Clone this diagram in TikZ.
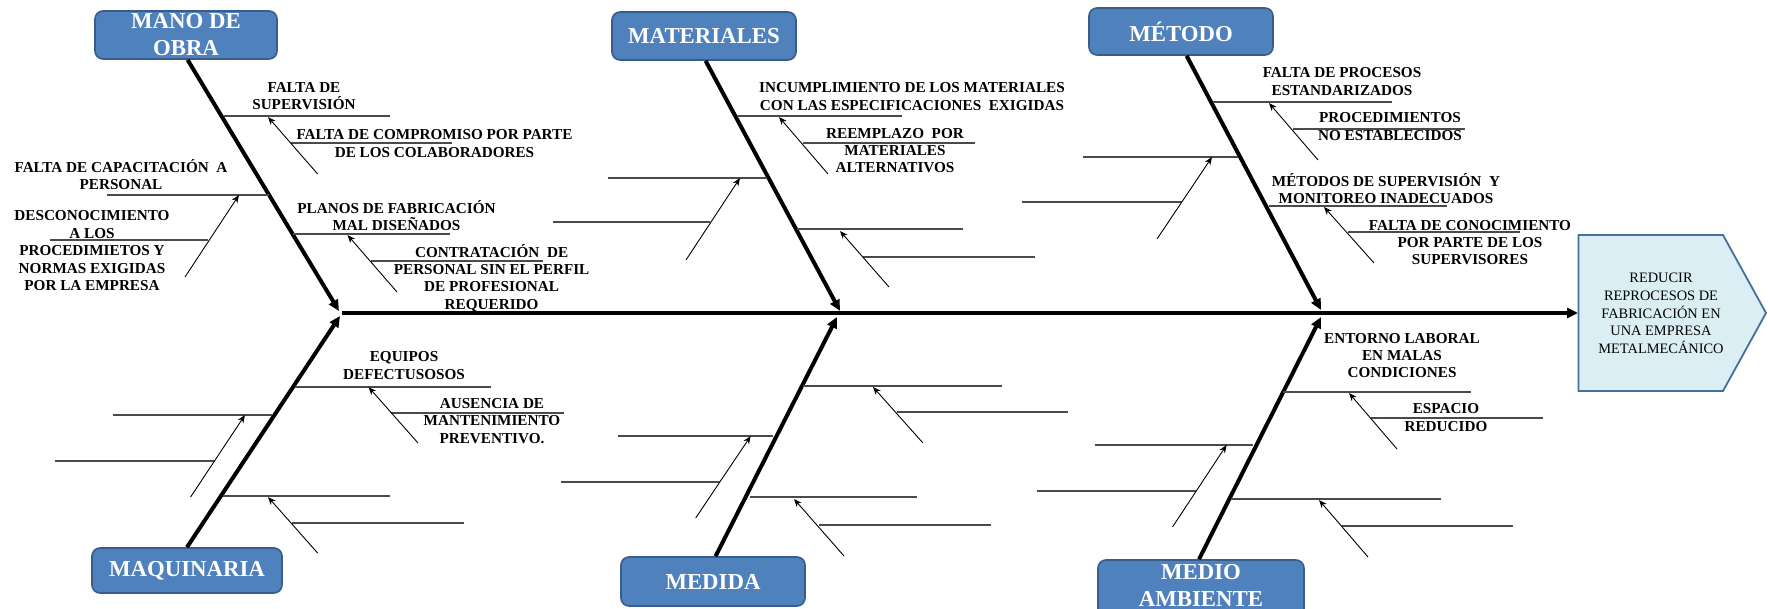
\documentclass[tikz,border=0pt]{standalone}
\usepackage{fontspec}
\setmainfont{Liberation Serif}
\usetikzlibrary{arrows.meta}
\definecolor{catfill}{HTML}{4F81BD}
\definecolor{catdraw}{HTML}{385D8A}
\definecolor{goalfill}{HTML}{DBEEF4}
\definecolor{goaldraw}{HTML}{41719C}
\definecolor{bonegray}{HTML}{4A4A4A}
\begin{document}
\begin{tikzpicture}[x=0.5pt,y=-0.5pt,
  cat/.style={draw=catdraw, fill=catfill, line width=0.8pt, rounded corners=4pt, text=white,
    font=\fontsize{11.4}{13.5}\selectfont\bfseries, align=center, inner sep=0pt},
  cattext/.style={text=white, font=\fontsize{11.4}{13.5}\selectfont\bfseries, align=center, inner sep=0pt},
  lbl/.style={font=\fontsize{7.6}{8.6}\selectfont\bfseries, align=center, inner sep=0pt},
  goaltext/.style={font=\fontsize{7.2}{8.85}\selectfont, align=center, inner sep=0pt},
  spine/.style={line width=2pt, -{Triangle[length=5.5pt,width=5pt]}},
  bone/.style={line width=0.6pt, draw=bonegray},
  sub/.style={line width=0.45pt, -{Stealth[length=4pt,width=3.2pt]}},
]
\clip (0,0) rectangle (1768,609);
\fill[white] (0,0) rectangle (1768,609);

% ---------- category boxes ----------
\node[cat, minimum width=91pt, minimum height=24pt] (mano) at (186,35) {MANO DE\\OBRA};
\node[cat, minimum width=92pt, minimum height=24pt] (mat) at (704,36) {MATERIALES};
\node[cat, minimum width=92pt, minimum height=23.5pt] (met) at (1181,31.5) {MÉTODO};
\node[cat, minimum width=95pt, minimum height=22.5pt] (maq) at (187,570.5) {MAQUINARIA};
\node[cat, minimum width=92pt, minimum height=24.5pt] (med) at (713,581.5) {MEDIDA};
\node[cat, minimum width=103pt, minimum height=30pt] (amb) at (1201,590) {};
\node[cattext] (ambtxt) at (1201,585) {MEDIO\\AMBIENTE};

% ---------- goal ----------
\coordinate (g1) at (1578.5,235);
\coordinate (g2) at (1723,235);
\coordinate (g3) at (1766,313);
\coordinate (g4) at (1723,391);
\coordinate (g5) at (1578.5,391);
\draw[fill=goalfill, draw=goaldraw, line width=0.9pt] (g1) -- (g2) -- (g3) -- (g4) -- (g5) -- cycle;
\node[goaltext] (goal) at (1661,313.5) {REDUCIR\\REPROCESOS DE\\FABRICACIÓN EN\\UNA EMPRESA\\METALMECÁNICO};

% ---------- main spine ----------
\coordinate (ms) at (342,313);
\coordinate (G) at (1578,313);
\draw[spine] (ms) -- (G);

\coordinate (j1) at (339,311);
\coordinate (j2) at (840,311);
\coordinate (j3) at (1321,310);
\coordinate (j4) at (340,316);
\coordinate (j5) at (837,317);
\coordinate (j6) at (1321,317);
\draw[spine] ([xshift=0.8pt]mano.south) -- (j1);
\draw[spine] ([xshift=0.8pt]mat.south) -- (j2);
\draw[spine] ([xshift=2.8pt]met.south) -- (j3);
\draw[spine] (maq.north) -- (j4);
\draw[spine] ([xshift=1.3pt]med.north) -- (j5);
\draw[spine] ([xshift=-1pt]amb.north) -- (j6);

% ---------- MANO DE OBRA ----------
\draw[bone] (224,116) -- (390,116);
\draw[bone] (291,143) -- (452,143);
\draw[bone] (107,195) -- (269,195);
\draw[bone] (50,240) -- (208,240);
\draw[bone] (293,234) -- (450,234);
\draw[bone] (371,261) -- (543,261);
\draw[sub] (317.6,174) -- (268,117);
\draw[sub] (185,277) -- (239,195);
\draw[sub] (397,292) -- (347.5,235);
\node[lbl] (l1) at (304,96.5) {FALTA DE\\SUPERVISIÓN};
\node[lbl] (l2) at (434.5,143.5) {FALTA DE COMPROMISO POR PARTE\\DE LOS COLABORADORES};
\node[lbl] (l3) at (121,174.5) {FALTA DE CAPACITACIÓN \ A\\PERSONAL};
\node[lbl, font=\fontsize{7.6}{8.75}\selectfont\bfseries] (l4) at (92,251) {DESCONOCIMIENTO\\A LOS\\PROCEDIMIETOS Y\\NORMAS EXIGIDAS\\POR LA EMPRESA};
\node[lbl] (l5) at (396.5,215.5) {PLANOS DE FABRICACIÓN\\MAL DISEÑADOS};
\node[lbl] (l6) at (491.6,278) {CONTRATACIÓN \ DE\\PERSONAL SIN EL PERFIL\\DE PROFESIONAL\\REQUERIDO};

% ---------- MATERIALES ----------
\draw[bone] (737,116) -- (902,116);
\draw[bone] (803,143) -- (975,143);
\draw[bone] (608,178) -- (767,178);
\draw[bone] (553,222) -- (710,222);
\draw[bone] (797,229) -- (963,229);
\draw[bone] (863,257) -- (1035,257);
\draw[sub] (828,174) -- (779,117);
\draw[sub] (686,260) -- (740,178);
\draw[sub] (889,287) -- (840,231);
\node[lbl] (l7) at (912,96.5) {INCUMPLIMIENTO DE LOS MATERIALES\\CON LAS ESPECIFICACIONES \ EXIGIDAS};
\node[lbl] (l8) at (895,150.5) {REEMPLAZO \ POR\\MATERIALES\\ALTERNATIVOS};

% ---------- METODO ----------
\draw[bone] (1213,102) -- (1392,102);
\draw[bone] (1293,129) -- (1465,129);
\draw[bone] (1083,157) -- (1238,157);
\draw[bone] (1022,202) -- (1182,202);
\draw[bone] (1269,206) -- (1447,206);
\draw[bone] (1348,232) -- (1520,232);
\draw[sub] (1318,160) -- (1269,103);
\draw[sub] (1157,239) -- (1212,157);
\draw[sub] (1374,263) -- (1324,207);
\node[lbl] (l9) at (1342,81.5) {FALTA DE PROCESOS\\ESTANDARIZADOS};
\node[lbl] (l10) at (1390,126.5) {PROCEDIMIENTOS\\NO ESTABLECIDOS};
\node[lbl] (l11) at (1386,188.5) {MÉTODOS DE SUPERVISIÓN \ Y\\MONITOREO INADECUADOS};
\node[lbl] (l12) at (1470,242.5) {FALTA DE CONOCIMIENTO\\POR PARTE DE LOS\\SUPERVISORES};

% ---------- MAQUINARIA ----------
\draw[bone] (295,387) -- (491,387);
\draw[bone] (391,413) -- (564,413);
\draw[bone] (113,415) -- (272,415);
\draw[bone] (55,461) -- (214,461);
\draw[bone] (223,496) -- (390,496);
\draw[bone] (292,523) -- (464,523);
\draw[sub] (418,443) -- (368.5,387);
\draw[sub] (190.6,497) -- (245,415);
\draw[sub] (317.6,553) -- (268,497);
\node[lbl] (l13) at (404,365.5) {EQUIPOS\\DEFECTUSOSOS};
\node[lbl] (l14) at (492,421) {AUSENCIA DE\\MANTENIMIENTO\\PREVENTIVO.};

% ---------- MEDIDA ----------
\draw[bone] (803,386) -- (1002,386);
\draw[bone] (897,412) -- (1068,412);
\draw[bone] (618,436) -- (773,436);
\draw[bone] (561,482) -- (720,482);
\draw[bone] (750,497) -- (917,497);
\draw[bone] (819,525) -- (991,525);
\draw[sub] (922.7,442.7) -- (873,387);
\draw[sub] (695.7,518) -- (750.7,436);
\draw[sub] (844,556) -- (794,499);

% ---------- MEDIO AMBIENTE ----------
\draw[bone] (1283,392) -- (1471,392);
\draw[bone] (1371,418) -- (1543,418);
\draw[bone] (1095,445) -- (1253,445);
\draw[bone] (1037,491) -- (1196,491);
\draw[bone] (1231,499) -- (1441,499);
\draw[bone] (1342,526) -- (1513,526);
\draw[sub] (1397,449) -- (1349,393);
\draw[sub] (1172.5,527) -- (1226.6,445);
\draw[sub] (1368,557) -- (1319,500);
\node[lbl] (l15) at (1402,355.5) {ENTORNO LABORAL\\EN MALAS\\CONDICIONES};
\node[lbl] (l16) at (1446,417.5) {ESPACIO\\REDUCIDO};
\end{tikzpicture}
\end{document}
